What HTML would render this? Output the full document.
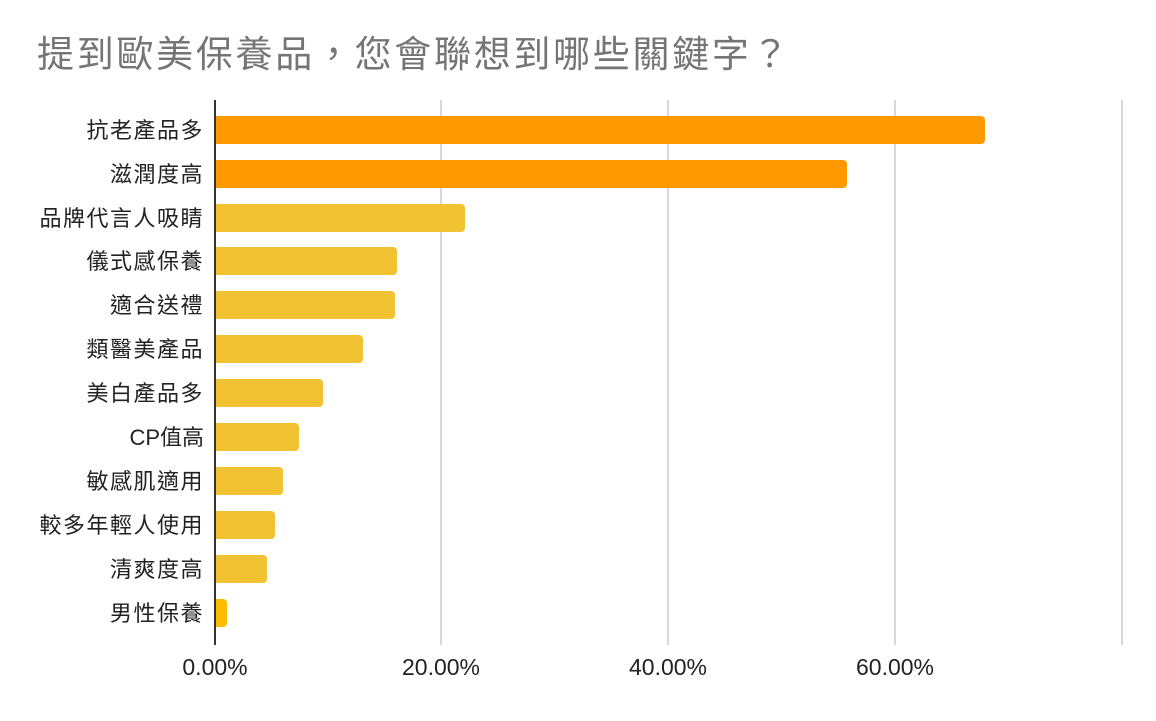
<!DOCTYPE html>
<html><head><meta charset="utf-8"><style>body{margin:0;background:#fff}</style></head><body>
<svg width="1156" height="716" xmlns="http://www.w3.org/2000/svg" style="font-family:'Liberation Sans','Noto Sans CJK TC',sans-serif">
<defs><clipPath id="c"><rect x="215" y="0" width="941" height="716"/></clipPath></defs>
<rect width="1156" height="716" fill="#fff"/>
<text x="37" y="67" font-size="37" letter-spacing="2.7" fill="#757575">提到歐美保養品，您會聯想到哪些關鍵字？</text>
<g stroke="#cccccc" stroke-width="1.5">
<line x1="441" y1="100" x2="441" y2="645"/><line x1="668" y1="100" x2="668" y2="645"/><line x1="895" y1="100" x2="895" y2="645"/><line x1="1122" y1="100" x2="1122" y2="645"/>
</g>
<g clip-path="url(#c)">
<rect x="205" y="116" width="780" height="28" rx="4" fill="#ff9900"/>
<rect x="205" y="160" width="642" height="28" rx="4" fill="#ff9900"/>
<rect x="205" y="204" width="260" height="28" rx="4" fill="#f1c232"/>
<rect x="205" y="247" width="192" height="28" rx="4" fill="#f1c232"/>
<rect x="205" y="291" width="190" height="28" rx="4" fill="#f1c232"/>
<rect x="205" y="335" width="158" height="28" rx="4" fill="#f1c232"/>
<rect x="205" y="379" width="118" height="28" rx="4" fill="#f1c232"/>
<rect x="205" y="423" width="94" height="28" rx="4" fill="#f1c232"/>
<rect x="205" y="467" width="78" height="28" rx="4" fill="#f1c232"/>
<rect x="205" y="511" width="70" height="28" rx="4" fill="#f1c232"/>
<rect x="205" y="555" width="62" height="28" rx="4" fill="#f1c232"/>
<rect x="205" y="599" width="22" height="28" rx="4" fill="#fbbc04"/>
</g>
<line x1="215" y1="100" x2="215" y2="645" stroke="#333" stroke-width="2"/>
<g font-size="22" fill="#222" text-anchor="end" letter-spacing="1.5">
<text x="204" y="138">抗老產品多</text>
<text x="204" y="182">滋潤度高</text>
<text x="204" y="226">品牌代言人吸睛</text>
<text x="204" y="269">儀式感保養</text>
<text x="204" y="313">適合送禮</text>
<text x="204" y="357">類醫美產品</text>
<text x="204" y="401">美白產品多</text>
<text x="204" y="445" letter-spacing="0">CP值高</text>
<text x="204" y="489">敏感肌適用</text>
<text x="204" y="533">較多年輕人使用</text>
<text x="204" y="577">清爽度高</text>
<text x="204" y="621">男性保養</text>
</g>
<g font-size="23" fill="#222" text-anchor="middle">
<text x="215" y="675">0.00%</text>
<text x="441" y="675">20.00%</text>
<text x="668" y="675">40.00%</text>
<text x="895" y="675">60.00%</text>
</g>
</svg>
</body></html>
